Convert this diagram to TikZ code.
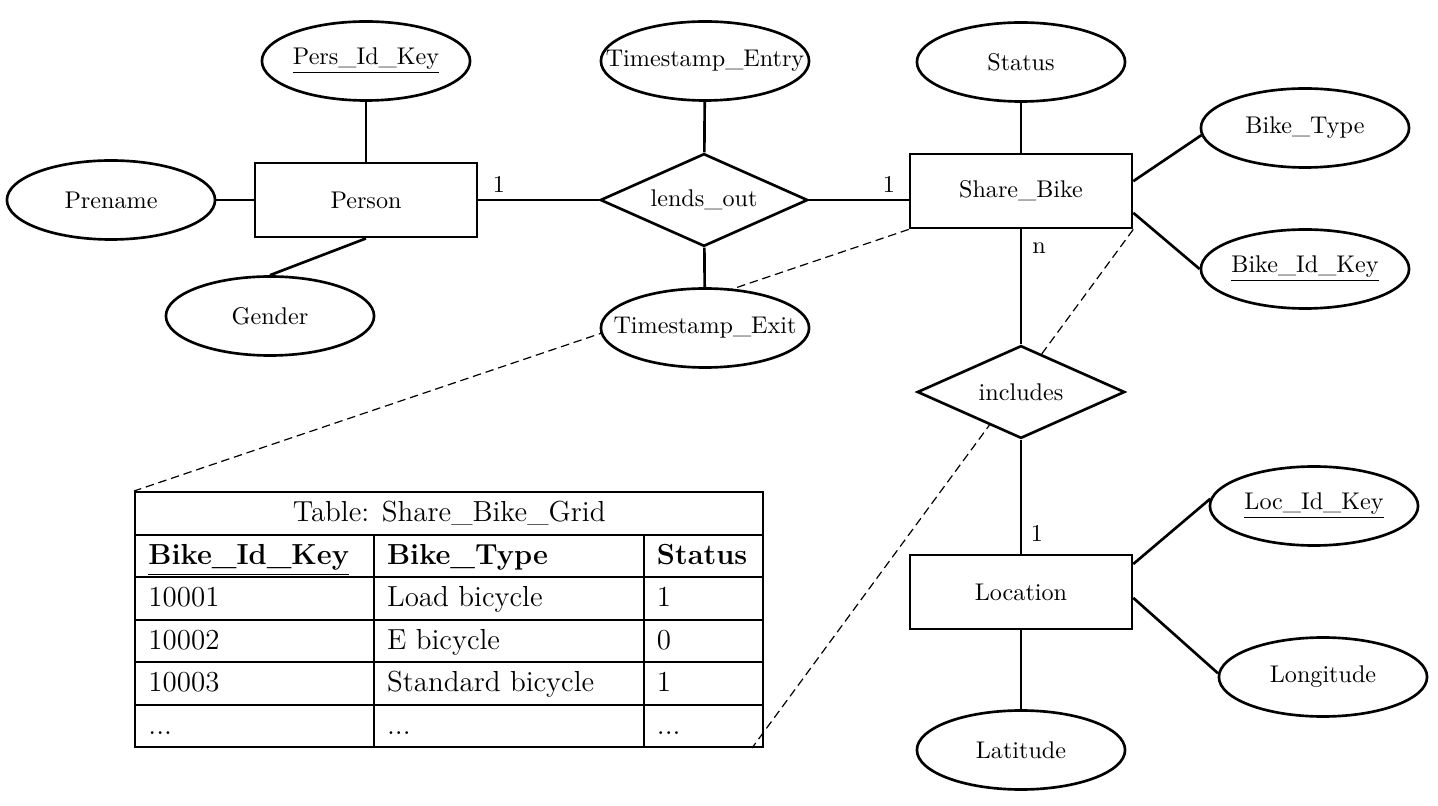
\documentclass[tikz,border=0pt]{standalone}
\usepackage{amsmath,amssymb}
\usepackage{xcolor}
\usepackage{array}
\usepackage{tikz}
\usetikzlibrary{positioning,shapes.geometric,backgrounds}

\begin{document}
\begin{tikzpicture}[
    x=0.01455cm, y=-0.01455cm,
    entity/.style={rectangle, draw, line width=1.1pt, fill=white, minimum width=3.23cm, minimum height=1.08cm},
    attr/.style={ellipse, draw, line width=1.1pt, fill=white, minimum width=3.03cm, minimum height=1.15cm, inner xsep=-12pt, inner ysep=0pt},
    rel/.style={diamond, draw, line width=1.1pt, fill=white, minimum width=3.02cm, minimum height=1.35cm, inner sep=0pt, aspect=2.2},
    link/.style={line width=1.1pt},
    hint/.style={line width=0.5pt, dash pattern=on 3.5pt off 2pt}
  ]
  \useasboundingbox (0,0) rectangle (1438,806);

  % Entities
  \node[entity] (person) at (366,200)  {Person};
  \node[entity] (bike)   at (1021,191) {Share\_Bike};
  \node[entity] (loc)    at (1021,592) {Location};

  % Relationships
  \node[rel] (lends) at (704,200)  {lends\_out};
  \node[rel] (incl)  at (1021,392) {includes};

  % Attributes
  \node[attr] (persid)   at (366,61)   {\underline{Pers\_Id\_Key}};
  \node[attr] (prename)  at (111,200)  {Prename};
  \node[attr] (gender)   at (270,316)  {Gender};
  \node[attr] (tsentry)  at (705,61)   {Timestamp\_Entry};
  \node[attr] (tsexit)   at (705,328)  {Timestamp\_Exit};
  \node[attr] (status)   at (1021,62)  {Status};
  \node[attr] (biketype) at (1305,128) {Bike\_Type};
  \node[attr] (bikeid)   at (1305,269) {\underline{Bike\_Id\_Key}};
  \node[attr] (locid)    at (1314,506) {\underline{Loc\_Id\_Key}};
  \node[attr] (longi)    at (1323,677) {Longitude};
  \node[attr] (lati)     at (1021,750) {Latitude};

  % Cardinalities
  \node (cPerson) at (499,184)  {1};
  \node (cBike)   at (889,184)  {1};
  \node (cMany)   at (1039,248) {n};
  \node (cLoc)    at (1037,533) {1};

  % Table
  \node[anchor=north west, inner sep=0pt] (grid) at (134,491) {\large
    \setlength{\tabcolsep}{5pt}\setlength{\arrayrulewidth}{0.8pt}%
    \renewcommand{\arraystretch}{1.2}%
    \begin{tabular}{|p{88pt}|p{101pt}|p{38.5pt}|}
      \hline
      \multicolumn{3}{|c|}{Table: Share\_Bike\_Grid}\\ \hline
      \textbf{\underline{Bike\_Id\_Key}} & \textbf{Bike\_Type} & \textbf{Status}\\ \hline
      10001 & Load bicycle & 1\\ \hline
      10002 & E bicycle & 0\\ \hline
      10003 & Standard bicycle & 1\\ \hline
      ... & ... & ...\\ \hline
    \end{tabular}};
  \coordinate (gridTip) at (752,748);

  % Links
  \draw[link] (persid) -- (person);
  \draw[link] (prename) -- (person);
  \draw[link] (person.south) -- (gender.north);
  \draw[link] (person) -- (lends);
  \draw[link] (lends.east) -- (lends.east -| bike.west);
  \draw[link] (tsentry) -- (lends);
  \draw[link] (lends) -- (tsexit);
  \draw[link] (status) -- (bike);
  \draw[link] (bike.5) -- (biketype.184);
  \draw[link] (bike.-11) -- (bikeid.west);
  \draw[link] (bike) -- (incl);
  \draw[link] (incl) -- (loc);
  \draw[link] (loc.14) -- (locid.176);
  \draw[link] (loc.-3) -- (longi.178);
  \draw[link] (loc) -- (lati);

  % Table hints
  \begin{scope}[on background layer]
    \draw[hint] (bike.south west) -- (grid.north west);
    \draw[hint] (bike.south east) -- (gridTip);
  \end{scope}
\end{tikzpicture}
\end{document}
